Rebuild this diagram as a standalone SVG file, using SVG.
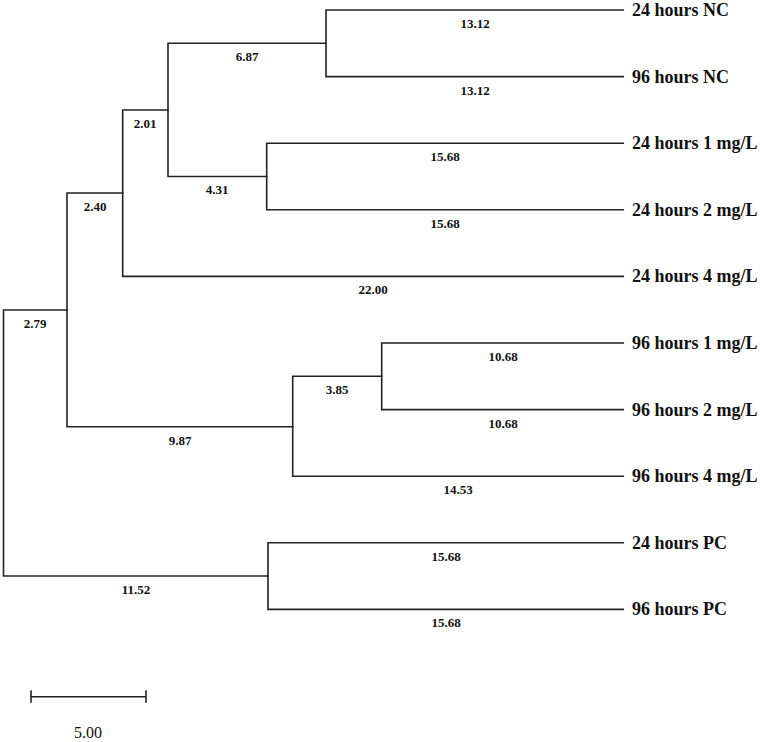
<svg xmlns="http://www.w3.org/2000/svg" width="762" height="742" viewBox="0 0 762 742">
<style>
.br{fill:none;stroke:#222;stroke-width:1.6;stroke-linecap:square}
.leaf{font-family:"Liberation Serif",serif;font-weight:bold;font-size:18px;fill:#111}
.bl{font-family:"Liberation Serif",serif;font-weight:bold;font-size:13px;fill:#111;text-anchor:middle}
.sc{font-family:"Liberation Serif",serif;font-size:16px;fill:#111;text-anchor:middle}
</style>
<rect width="762" height="742" fill="#fff"/>
<g id="connectors">
<!-- root -->
<path class="br" d="M67,310 H3.5 V576 H268"/>
<!-- node A -->
<path class="br" d="M122.7,193 H67 V426.7 H292.7"/>
<!-- node B -->
<path class="br" d="M168,110 H122.7 V276.4 H623.3"/>
<!-- node C -->
<path class="br" d="M326,43.3 H168 V176.5 H266.7"/>
<!-- node D -->
<path class="br" d="M623.3,10 H326 V76.6 H623.3"/>
<!-- node E -->
<path class="br" d="M623.3,143.2 H266.7 V209.8 H623.3"/>
<!-- node F -->
<path class="br" d="M381.7,376.3 H292.7 V476.2 H623.3"/>
<!-- node G -->
<path class="br" d="M623.3,343 H381.7 V409.6 H623.3"/>
<!-- PC node -->
<path class="br" d="M623.3,542.8 H268 V609.4 H623.3"/>
</g>
<g id="branch-lengths">
<text class="bl" x="475" y="28">13.12</text>
<text class="bl" x="475" y="94.6">13.12</text>
<text class="bl" x="247" y="61">6.87</text>
<text class="bl" x="145" y="127.5">2.01</text>
<text class="bl" x="217" y="194">4.31</text>
<text class="bl" x="95" y="210.5">2.40</text>
<text class="bl" x="445" y="161.2">15.68</text>
<text class="bl" x="445" y="227.8">15.68</text>
<text class="bl" x="373" y="294.4">22.00</text>
<text class="bl" x="35" y="327.5">2.79</text>
<text class="bl" x="337" y="394">3.85</text>
<text class="bl" x="503" y="361">10.68</text>
<text class="bl" x="503" y="427.6">10.68</text>
<text class="bl" x="180" y="444.5">9.87</text>
<text class="bl" x="458" y="494.2">14.53</text>
<text class="bl" x="136" y="594">11.52</text>
<text class="bl" x="446" y="560.8">15.68</text>
<text class="bl" x="446" y="627.4">15.68</text>
</g>
<g id="leaf-24h-NC"><text class="leaf" x="632" y="16">24 hours NC</text></g>
<g id="leaf-96h-NC"><text class="leaf" x="632" y="82.6">96 hours NC</text></g>
<g id="leaf-24h-1"><text class="leaf" x="632" y="149.2">24 hours 1 mg/L</text></g>
<g id="leaf-24h-2"><text class="leaf" x="632" y="215.8">24 hours 2 mg/L</text></g>
<g id="leaf-24h-4"><text class="leaf" x="632" y="282.4">24 hours 4 mg/L</text></g>
<g id="leaf-96h-1"><text class="leaf" x="632" y="349">96 hours 1 mg/L</text></g>
<g id="leaf-96h-2"><text class="leaf" x="632" y="415.6">96 hours 2 mg/L</text></g>
<g id="leaf-96h-4"><text class="leaf" x="632" y="482.2">96 hours 4 mg/L</text></g>
<g id="leaf-24h-PC"><text class="leaf" x="632" y="548.8">24 hours PC</text></g>
<g id="leaf-96h-PC"><text class="leaf" x="632" y="615.4">96 hours PC</text></g>
<g id="scale-bar">
<path class="br" d="M31,696.7 H146 M31,691 V702 M146,691 V702"/>
<text class="sc" x="88" y="738">5.00</text>
</g>
</svg>
